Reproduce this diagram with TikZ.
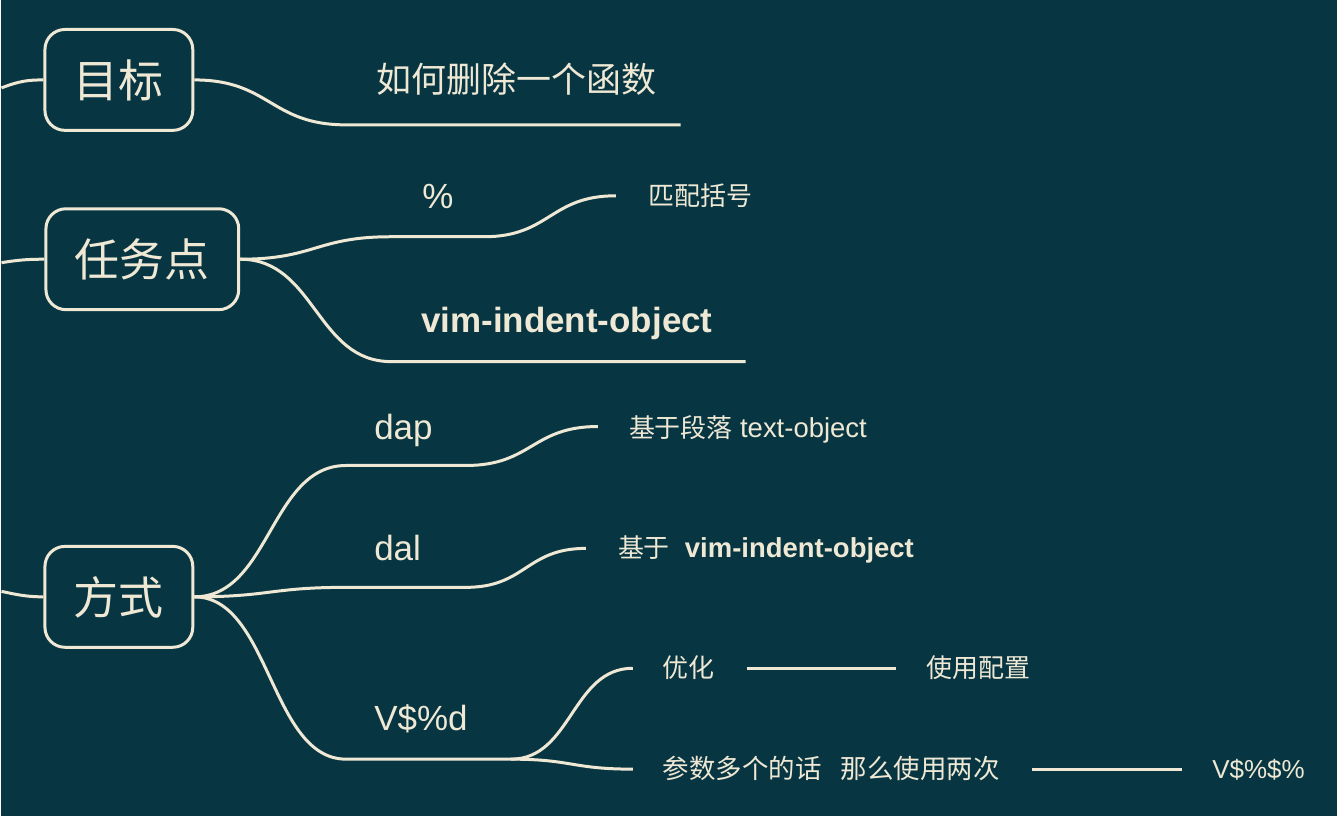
\documentclass[tikz,border=0pt]{standalone}
\usepackage{fontspec}
\setmainfont{Liberation Sans}
\newfontfamily\cjk{Noto Sans CJK SC}
\definecolor{mapbg}{RGB}{7,54,66}
\definecolor{mapfg}{RGB}{238,232,213}

\begin{document}
\begin{tikzpicture}[
    x=1pt, y=-1pt,
    topic/.style={rectangle, draw=mapfg, line width=3pt, rounded corners=20pt, minimum height=101pt, inner xsep=29pt, text=mapfg, font=\fontsize{45}{50}\selectfont\cjk},
    sub/.style={anchor=west, inner sep=0pt, text=mapfg, text height=25pt, text depth=0pt, font=\fontsize{35}{40}\selectfont},
    leaf/.style={sub, text height=19pt, font=\fontsize{26}{30}\selectfont},
    link/.style={mapfg, line width=3pt}
]
\fill[mapbg] (0,0) rectangle (1337,817);

% main topics
\node[topic] (mubiao) at (117.5,80) {目标};
\node[topic] (renwu) at (141,259.5) {任务点};
\node[topic] (fangshi) at (117.5,597.5) {方式};

\coordinate (in1) at (0,88);
\coordinate (in2) at (0,263);
\coordinate (in3) at (0,592);
\draw[link] (in1) .. controls +(18,-7) and +(-15,0) .. (mubiao.west);
\draw[link] (in2) .. controls +(18,-3) and +(-15,0) .. (renwu.west);
\draw[link] (in3) .. controls +(18,4) and +(-15,0) .. (fangshi.west);

% goal
\node[sub] (hanshu) at (375,80) {\cjk 如何删除一个函数};
\coordinate (hanshuL) at (345,125);
\coordinate (hanshuR) at (680,125);
\draw[link] (mubiao.east) .. controls +(76,0) and +(-76,0) .. (hanshuL) -- (hanshuR);

% tasks
\node[sub, anchor=center] (pct) at (437,196) {\%};
\node[leaf] (kuohao) at (648,196) {\cjk 匹配括号};
\coordinate (pctL) at (390,237);
\coordinate (pctR) at (483,237);
\coordinate (kuohaoL) at (615,196);
\draw[link] (renwu.east) .. controls +(75,0) and +(-75,0) .. (pctL) -- (pctR)
    .. controls +(66,0) and +(-66,0) .. (kuohaoL);

\node[sub, font=\fontsize{35}{40}\selectfont\bfseries] (indent) at (420,320) {vim-indent-object};
\coordinate (indentL) at (390,362);
\coordinate (indentR) at (745,362);
\draw[link] (renwu.east) .. controls +(75,0) and +(-75,0) .. (indentL) -- (indentR);

% ways
\node[sub] (dap) at (373,427) {dap};
\node[leaf] (duanluo) at (628,428) {{\cjk 基于段落} {\fontsize{27.5}{30}\selectfont text-object}};
\coordinate (dapL) at (345,466);
\coordinate (dapR) at (465,466);
\coordinate (duanluoL) at (597,427);
\draw[link] (fangshi.east) .. controls +(76,0) and +(-76,0) .. (dapL) -- (dapR)
    .. controls +(66,0) and +(-66,0) .. (duanluoL);

\node[sub] (dal) at (373,549) {dal};
\node[leaf] (jiyu) at (617,549) {{\cjk 基于}\hspace{15pt}{\fontsize{27.5}{30}\selectfont\bfseries vim-indent-object}};
\coordinate (dalL) at (345,588);
\coordinate (dalR) at (465,588);
\coordinate (jiyuL) at (585,549);
\draw[link] (fangshi.east) .. controls +(76,0) and +(-76,0) .. (dalL) -- (dalR)
    .. controls +(60,0) and +(-60,0) .. (jiyuL);

\node[sub] (vd) at (373,719) {V\$\%d};
\coordinate (vdL) at (345,760);
\coordinate (vdR) at (510,760);
\draw[link] (fangshi.east) .. controls +(76,0) and +(-76,0) .. (vdL) -- (vdR);

\node[leaf] (youhua) at (662,669) {\cjk 优化};
\node[leaf] (peizhi) at (926,669) {\cjk 使用配置};
\coordinate (youhuaL) at (632,669);
\coordinate (youhuaA) at (746,669);
\coordinate (youhuaB) at (895,669);
\draw[link] (vdR) .. controls +(61,0) and +(-61,0) .. (youhuaL);
\draw[link] (youhuaA) -- (youhuaB);

\node[leaf] (liangci) at (662,770) {\cjk\fontsize{26.5}{30}\selectfont 参数多个的话\hspace{19pt}那么使用两次};
\node[leaf] (vv) at (1212,770) {V\$\%\$\%};
\coordinate (liangciL) at (632,770);
\coordinate (liangciA) at (1032,770);
\coordinate (liangciB) at (1182,770);
\draw[link] (vdR) .. controls +(61,0) and +(-61,0) .. (liangciL);
\draw[link] (liangciA) -- (liangciB);

\end{tikzpicture}
\end{document}
